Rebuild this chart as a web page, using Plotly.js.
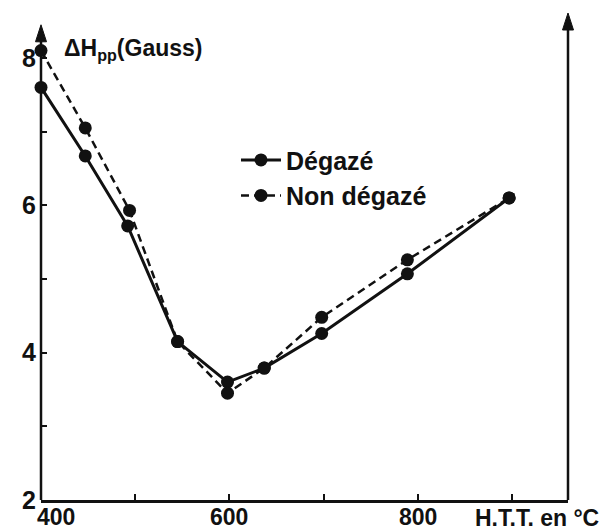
<!DOCTYPE html>
<html>
<head>
<meta charset="utf-8">
<script src="https://cdn.plot.ly/plotly-3.0.1.min.js"></script>
<style>
html,body{margin:0;padding:0;background:#fff;}
#chart{width:612px;height:530px;}
</style>
</head>
<body>
<div id="chart"></div>
<script>
// Data
const seriesNames = ["Dégazé", "Non dégazé"];
const httDegaze = [400, 447, 492, 545, 598, 637, 698, 789, 897];
const dhDegaze = [7.60, 6.67, 5.72, 4.15, 3.60, 3.79, 4.26, 5.07, 6.10];
const httNonDegaze = [400, 447, 494, 545, 598, 637, 698, 789, 897];
const dhNonDegaze = [8.10, 7.05, 5.93, 4.15, 3.45, 3.79, 4.48, 5.26, 6.10];
const xTickVals = [400, 500, 600, 700, 800, 900];
const xLabelVals = [400, 600, 800];
const xLabelText = ["400", "600", "800"];
const yTickVals = [2, 3, 4, 5, 6, 7, 8];
const yTickText = ["2", "", "4", "", "6", "", "8"];
const y2TickVals = [3, 4, 5, 6, 7, 8];
const yTitle = "ΔH<sub>pp</sub>(Gauss)";
const xTitle = "H.T.T. en °C";

const ink = "#111";
const textFont = {family: "Liberation Sans, Arial, sans-serif", size: 25, color: ink, weight: "bold"};
const xTitleFont = {family: "Liberation Sans, Arial, sans-serif", size: 23, color: ink, weight: "bold"};
const titleFont = {family: "Liberation Sans, Arial, sans-serif", size: 23, color: ink, weight: "bold"};
const tickFont = {family: "Liberation Sans Narrow, Liberation Sans, sans-serif", size: 25, color: ink, weight: "bold"};
const xTickFont = {family: "Liberation Sans Narrow, Liberation Sans, sans-serif", size: 23, color: ink, weight: "bold"};

const xRange = [400, 959.5];
const yRange = [2, 8.61];

const W = 612, H = 530;
const M = {l: 41, r: 44, t: 13, b: 30, pad: 0};
const plotW = W - M.l - M.r, plotH = H - M.t - M.b;

// axis arrows (decoration), in paper units
const leftTop = (8.45 - yRange[0]) / (yRange[1] - yRange[0]);
const rightTop = 1;
const headW = 5.5 / plotW, headH = 17 / plotH;
function arrowPath(x, tip) {
  return `M${x - headW},${tip - headH} L${x},${tip} L${x + headW},${tip - headH} Z`;
}
const axisShapes = [
  {type: "line", xref: "paper", yref: "paper", x0: 0, x1: 0, y0: 0, y1: leftTop - headH * 0.6,
   line: {color: ink, width: 2.5}, layer: "above"},
  {type: "path", xref: "paper", yref: "paper", path: arrowPath(0, leftTop),
   fillcolor: ink, line: {color: ink, width: 1}, layer: "above"},
  {type: "line", xref: "paper", yref: "paper", x0: 1, x1: 1, y0: 0, y1: rightTop - headH * 0.6,
   line: {color: ink, width: 2.5}, layer: "above"},
  {type: "path", xref: "paper", yref: "paper", path: arrowPath(1, rightTop),
   fillcolor: ink, line: {color: ink, width: 1}, layer: "above"}
];

const traces = [
  {
    x: httDegaze, y: dhDegaze, name: seriesNames[0],
    type: "scatter", mode: "lines+markers", cliponaxis: false,
    line: {color: ink, width: 3},
    marker: {color: ink, size: 13, symbol: "circle"}
  },
  {
    x: httNonDegaze, y: dhNonDegaze, name: seriesNames[1],
    type: "scatter", mode: "lines+markers", cliponaxis: false,
    line: {color: ink, width: 2.5, dash: "8px,5px"},
    marker: {color: ink, size: 13, symbol: "circle"}
  }
];

// x tick labels placed at their axis values
const xLabelAnnotations = xLabelVals.map((v, i) => ({
  x: v, y: yRange[0], xref: "x", yref: "y",
  text: xLabelText[i], showarrow: false, font: xTickFont,
  xanchor: i === 0 ? "left" : "center", xshift: i === 0 ? -6 : 0,
  yanchor: "top", yshift: -2
}));

const layout = {
  width: W, height: H,
  margin: M,
  paper_bgcolor: "#fff", plot_bgcolor: "#fff",
  showlegend: true,
  legend: {
    x: 0.37, y: 0.745, xanchor: "left", yanchor: "top",
    bgcolor: "rgba(0,0,0,0)", borderwidth: 0,
    font: textFont, itemwidth: 40, tracegroupgap: 0
  },
  xaxis: {
    range: xRange, autorange: false,
    showline: true, linecolor: ink, linewidth: 2.5,
    showgrid: false, zeroline: false,
    ticks: "inside", ticklen: 6, tickwidth: 2, tickcolor: ink,
    tickvals: xTickVals, showticklabels: false
  },
  yaxis: {
    range: yRange, autorange: false,
    showline: false, showgrid: false, zeroline: false,
    ticks: "inside", ticklen: 6, tickwidth: 2, tickcolor: ink,
    tickvals: yTickVals, ticktext: yTickText,
    tickfont: tickFont, ticklabelstandoff: 4
  },
  yaxis2: {
    range: yRange, autorange: false, overlaying: "y", side: "right",
    showline: false, showgrid: false, zeroline: false,
    ticks: "inside", ticklen: 6, tickwidth: 2, tickcolor: ink,
    tickvals: y2TickVals, showticklabels: false
  },
  shapes: axisShapes,
  annotations: [
    {
      text: yTitle, xref: "paper", yref: "paper",
      x: 0.04, y: 0.925, xanchor: "left", yanchor: "middle",
      showarrow: false, font: titleFont
    },
    {
      text: xTitle, xref: "paper", yref: "y",
      x: 1.062, y: yRange[0], xanchor: "right", yanchor: "top",
      yshift: -3, showarrow: false, font: xTitleFont
    }
  ].concat(xLabelAnnotations)
};

Plotly.newPlot("chart", traces, layout, {staticPlot: true, displayModeBar: false});
</script>
</body>
</html>
